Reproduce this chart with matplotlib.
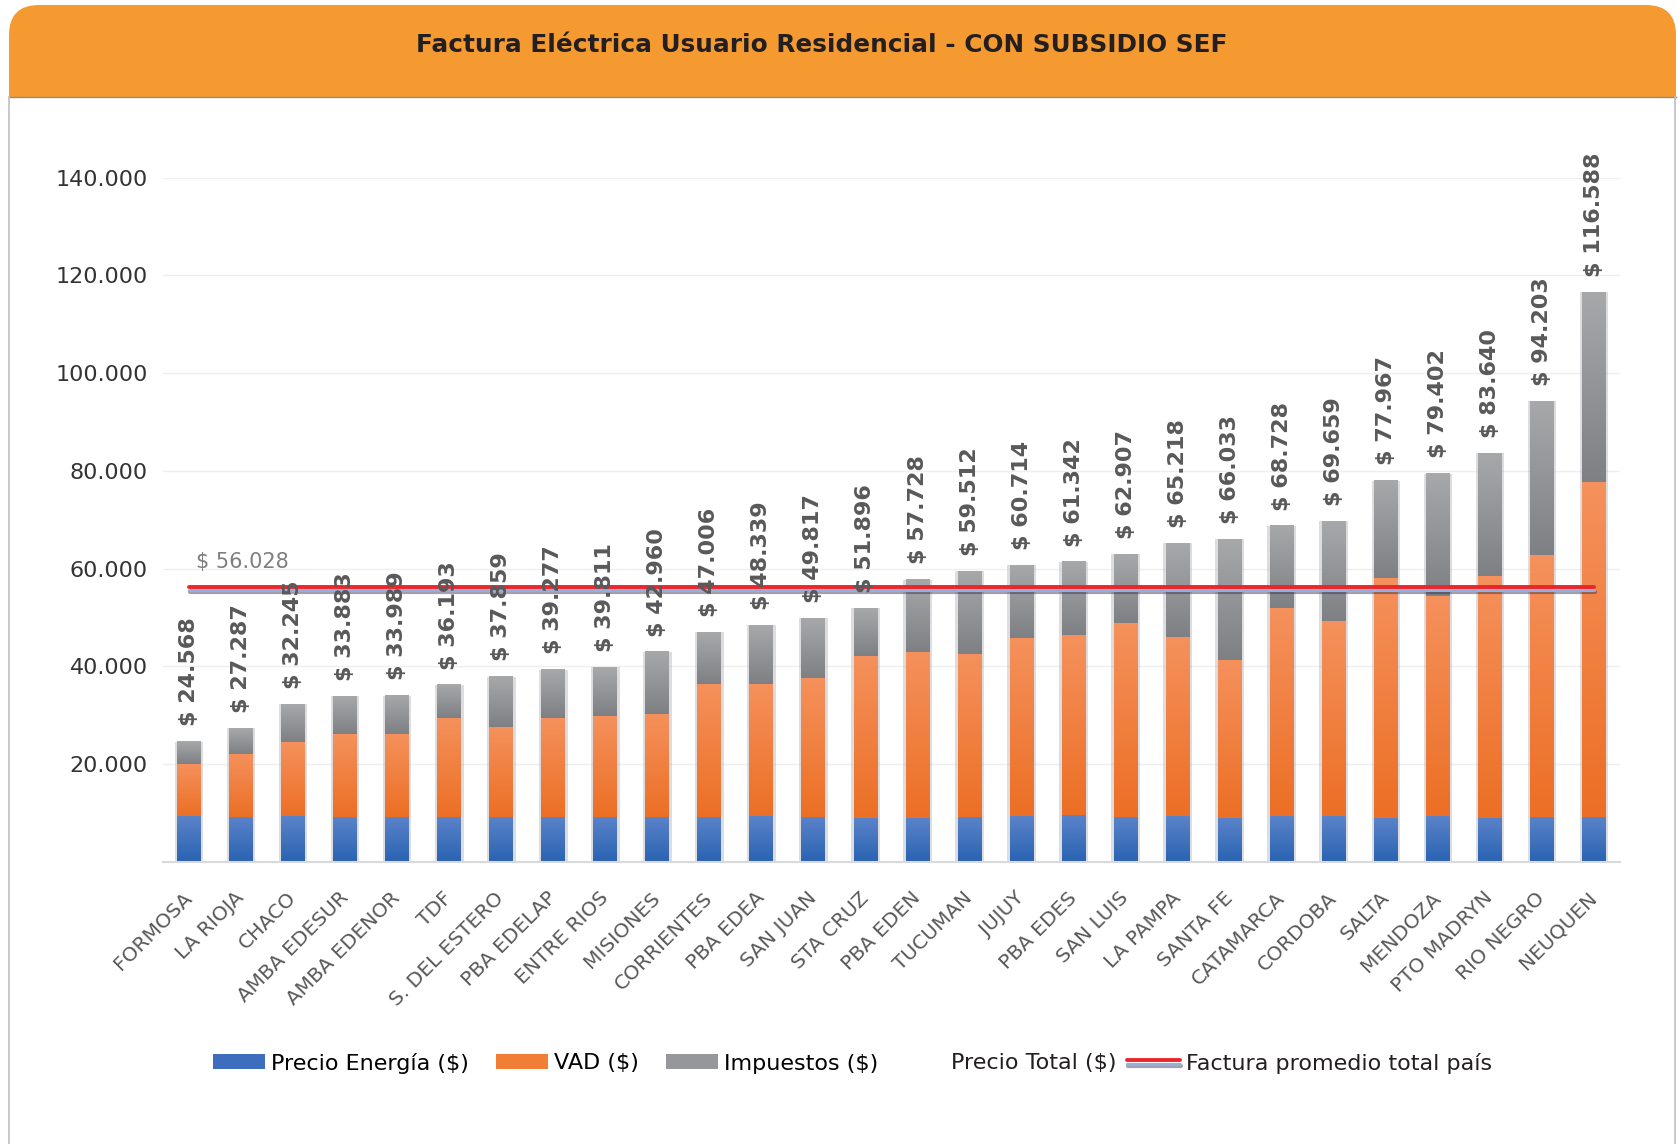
import numpy as np
import matplotlib
matplotlib.use("Agg")
import matplotlib.pyplot as plt
import matplotlib.patheffects as pe
from matplotlib.colors import LinearSegmentedColormap
from matplotlib.patches import FancyBboxPatch, Rectangle, Patch
from matplotlib.lines import Line2D
from matplotlib.transforms import IdentityTransform
from matplotlib.ticker import FuncFormatter

# datos
regiones = ["FORMOSA", "LA RIOJA", "CHACO", "AMBA EDESUR", "AMBA EDENOR", "TDF",
            "S. DEL ESTERO", "PBA EDELAP", "ENTRE RIOS", "MISIONES", "CORRIENTES",
            "PBA EDEA", "SAN JUAN", "STA CRUZ", "PBA EDEN", "TUCUMAN", "JUJUY",
            "PBA EDES", "SAN LUIS", "LA PAMPA", "SANTA FE", "CATAMARCA", "CORDOBA",
            "SALTA", "MENDOZA", "PTO MADRYN", "RIO NEGRO", "NEUQUEN"]
precio_total = [24568, 27287, 32245, 33883, 33989, 36193, 37859, 39277, 39811, 42960,
                47006, 48339, 49817, 51896, 57728, 59512, 60714, 61342, 62907, 65218,
                66033, 68728, 69659, 77967, 79402, 83640, 94203, 116588]
energia = [9360, 9080, 9360, 9080, 9080, 9080, 9080, 9080, 9080, 9080,
           9080, 9360, 9080, 8880, 8880, 9080, 9360, 9560, 9080, 9360,
           8880, 9400, 9400, 8860, 9400, 9030, 9250, 9200]
vad = [10640, 12970, 15140, 17060, 17060, 20320, 18420, 20320, 20750, 21150,
       27300, 27020, 28520, 33220, 34050, 33500, 36500, 36790, 39720, 36700,
       32410, 42470, 39830, 49210, 44990, 49440, 53510, 68520]
promedio_pais = 56028

impuestos = np.array(precio_total) - np.array(energia) - np.array(vad)

W, H = 1678, 1144
fig = plt.figure(figsize=(W / 100, H / 100), dpi=100, facecolor="white")

# encabezado naranja
naranja = "#F59A31"
fig.add_artist(FancyBboxPatch((9, H - 97), 1667, 92, boxstyle="round,pad=0,rounding_size=30",
                              transform=IdentityTransform(), fc=naranja, ec="none"))
fig.add_artist(Rectangle((9, H - 97), 1667, 40, transform=IdentityTransform(), fc=naranja, ec="none"))
fig.add_artist(Line2D([9, 1676], [H - 97, H - 97], transform=IdentityTransform(), color="#8c8c8c", lw=1))
fig.add_artist(Line2D([9, 9], [0, H - 97], transform=IdentityTransform(), color="#bfbfbf", lw=1.2))
fig.add_artist(Line2D([1675, 1675], [0, H - 97], transform=IdentityTransform(), color="#bfbfbf", lw=1.2))
fig.text(822 / W, 1 - 45 / H, "Factura Eléctrica Usuario Residencial - CON SUBSIDIO SEF",
         ha="center", va="center", fontsize=17.8, fontweight="bold", color="#231f20")

ax = fig.add_axes([163 / W, 1 - 861.7 / H, 1457 / W, (861.7 - 177.6) / H])
x = np.arange(len(regiones))
ancho = 0.46

# sombra suave detras de las barras
ax.bar(x, precio_total, width=ancho + 0.09, color="#b5b5bb", alpha=0.45, zorder=1, linewidth=0)

b1 = ax.bar(x, energia, width=ancho, color="#4472C4", zorder=2, label="Precio Energía ($)")
b2 = ax.bar(x, vad, width=ancho, bottom=energia, color="#ED7D31", zorder=2, label="VAD ($)")
b3 = ax.bar(x, impuestos, width=ancho, bottom=np.array(energia) + np.array(vad),
            color="#95979A", zorder=2, label="Impuestos ($)")

# degradado vertical en cada segmento
grad = np.linspace(0, 1, 64).reshape(-1, 1)
for bars, c_bot, c_top in [(b1, "#2A63B2", "#5A83C9"),
                           (b2, "#EC6F25", "#F5915C"),
                           (b3, "#7E8083", "#A6A8AA")]:
    cmap = LinearSegmentedColormap.from_list("g", [c_bot, c_top])
    for b in bars:
        x0, y0 = b.get_x(), b.get_y()
        ax.imshow(grad, extent=(x0, x0 + b.get_width(), y0, y0 + b.get_height()),
                  origin="lower", cmap=cmap, aspect="auto", zorder=2.5, interpolation="bilinear")

# linea promedio
linea, = ax.plot([x[0], x[-1]], [promedio_pais, promedio_pais], color="#E8262B", lw=3,
                 solid_capstyle="round", zorder=4, label="Factura promedio total país",
                 path_effects=[pe.SimpleLineShadow(offset=(0.5, -3.2), shadow_color="#30304a", alpha=0.45),
                               pe.Stroke(linewidth=2.2, foreground="#97AEDD", offset=(0, -1.6)),
                               pe.Stroke(linewidth=2.8, foreground="#E8262B", offset=(0, 1.0))])
ax.annotate(f"$ {promedio_pais:,}".replace(",", "."), (x[0], promedio_pais), xytext=(5, 19),
            textcoords="offset points", ha="left", va="center", fontsize=15, color="#7f7f7f", zorder=5)

# etiquetas de total
for xi, tot in zip(x, precio_total):
    ax.annotate(f"$ {tot:,}".replace(",", "."), (xi, tot), xytext=(0, 11), textcoords="offset points",
                rotation=90, ha="center", va="bottom", fontsize=16, fontweight="bold",
                color="#595959", zorder=6, annotation_clip=False)

ax.set_xlim(-0.5, 27.5)
ax.set_ylim(0, 140000)
ax.set_yticks(np.arange(20000, 140001, 20000))
ax.yaxis.set_major_formatter(FuncFormatter(lambda v, p: f"{int(v):,}".replace(",", ".")))
ax.tick_params(axis="y", length=0, pad=11, labelsize=16, labelcolor="#333333")
ax.set_xticks(x)
ax.set_xticklabels(regiones, rotation=45, ha="right", va="center", rotation_mode="anchor",
                   fontsize=14.5, color="#595959")
ax.tick_params(axis="x", length=0, pad=24)
ax.yaxis.grid(True, color="#efefef", lw=1, zorder=0)
ax.set_axisbelow(True)
for s in ["top", "right", "left"]:
    ax.spines[s].set_visible(False)
ax.spines["bottom"].set_color("#d9d9d9")
ax.spines["bottom"].set_linewidth(1.5)

# leyenda
h_energia = Patch(facecolor="#3F6DBE", label="Precio Energía ($)")
h_vad = Patch(facecolor="#F07F35", label="VAD ($)")
h_imp = Patch(facecolor="#95979A", label="Impuestos ($)")
fig.legend(handles=[h_energia, h_vad, h_imp], loc="center left", bbox_to_anchor=(213 / W, 1 - 1063 / H),
           ncol=3, frameon=False, fontsize=16, handlelength=2.35, handleheight=0.68,
           handletextpad=0.27, columnspacing=1.2, borderpad=0, borderaxespad=0)
h_total = Patch(facecolor="none", edgecolor="none", label="Precio Total ($)")
fig.legend(handles=[h_total, linea], loc="center left", bbox_to_anchor=(892 / W, 1 - 1063 / H),
           ncol=2, frameon=False, fontsize=16, handlelength=2.4, handletextpad=0.27,
           columnspacing=0.45, borderpad=0, borderaxespad=0, labelcolor="#231f20")

fig.savefig("out.png", dpi=100, facecolor="white")
